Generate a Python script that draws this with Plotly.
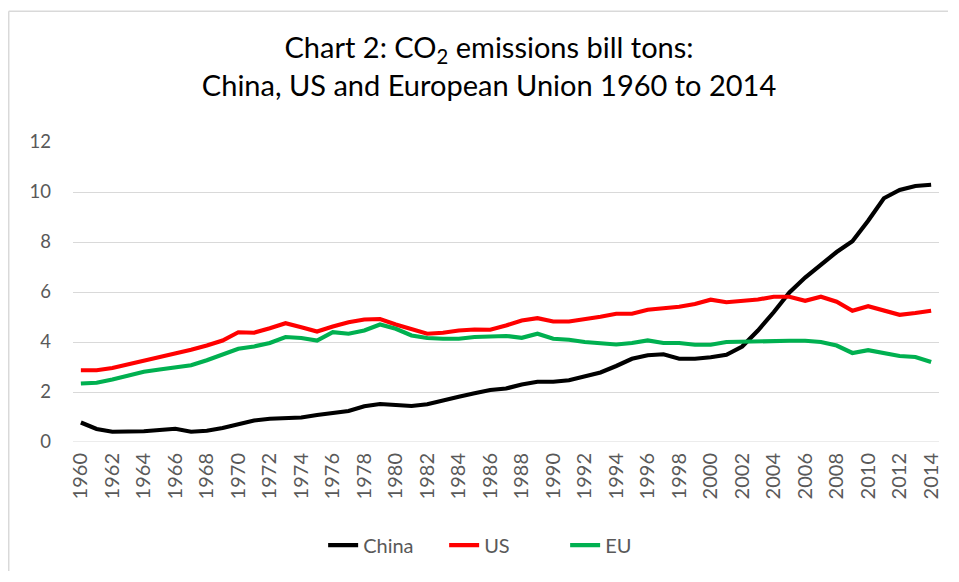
import plotly.graph_objects as go

years = list(range(1960, 2015))

china = [0.78, 0.52, 0.41, 0.41, 0.43, 0.48, 0.53, 0.41, 0.45, 0.56,
         0.73, 0.86, 0.93, 0.95, 0.98, 1.08, 1.15, 1.24, 1.43, 1.52,
         1.48, 1.44, 1.51, 1.64, 1.81, 1.95, 2.08, 2.14, 2.30, 2.41,
         2.41, 2.47, 2.61, 2.78, 3.04, 3.33, 3.47, 3.51, 3.33, 3.33,
         3.39, 3.49, 3.82, 4.46, 5.19, 5.98, 6.58, 7.10, 7.60, 8.03,
         8.85, 9.75, 10.08, 10.24, 10.29]

us = [2.87, 2.87, 2.96, 3.10, 3.23, 3.39, 3.53, 3.69, 3.86, 4.06,
      4.39, 4.37, 4.55, 4.75, 4.59, 4.42, 4.62, 4.79, 4.90, 4.92,
      4.70, 4.53, 4.33, 4.37, 4.46, 4.50, 4.49, 4.66, 4.86, 4.95,
      4.82, 4.82, 4.90, 5.01, 5.13, 5.13, 5.29, 5.35, 5.41, 5.52,
      5.69, 5.59, 5.64, 5.70, 5.81, 5.81, 5.65, 5.81, 5.61, 5.25,
      5.43, 5.28, 5.09, 5.16, 5.25]

eu = [2.34, 2.37, 2.50, 2.67, 2.81, 2.90, 2.99, 3.07, 3.27, 3.52,
      3.73, 3.82, 3.96, 4.20, 4.16, 4.06, 4.39, 4.33, 4.46, 4.70,
      4.53, 4.26, 4.16, 4.13, 4.13, 4.20, 4.20, 4.24, 4.17, 4.33,
      4.13, 4.09, 4.00, 3.96, 3.90, 3.96, 4.06, 3.96, 3.96, 3.89,
      3.89, 4.00, 4.02, 4.05, 4.05, 4.05, 4.05, 4.00, 3.86, 3.56,
      3.67, 3.56, 3.44, 3.40, 3.20]

x_ticks = list(range(1960, 2015, 2))
y_ticks = [0, 2, 4, 6, 8, 10, 12]

series = [("China", china, "#000000"), ("US", us, "#FF0000"), ("EU", eu, "#00B050")]

fig = go.Figure()
for name, vals, col in series:
    fig.add_trace(go.Scatter(x=years, y=vals, name=name, mode="lines",
                             line=dict(color=col, width=4.2)))

FONT = "Lato, 'Liberation Sans', sans-serif"
# page body has an 8px margin; figure sized to fit the 959x582 window
W, H = 943, 566
L, R, T, B = 65, 9, 133.7, 130
pw, ph = W - L - R, H - T - B


def px(fx):
    return (fx - L) / pw


def py(fy):
    return (H - B - fy) / ph


fig.update_layout(
    width=W, height=H,
    margin=dict(l=L, r=R, t=T, b=B),
    paper_bgcolor="white", plot_bgcolor="white",
    font=dict(family=FONT, color="#595959", size=20),
    title=dict(
        text="Chart 2: CO<sub>2</sub> emissions bill tons:<br>China, US and European Union 1960 to 2014",
        font=dict(family=FONT, size=29, color="#000000"),
        x=px(482.5), xref="paper", xanchor="center",
        y=1 - 50 / H, yref="container", yanchor="top",
    ),
    xaxis=dict(
        range=[1959.5, 2014.5], tickmode="array", tickvals=x_ticks,
        ticktext=[str(v) for v in x_ticks], tickangle=-90,
        showgrid=False, zeroline=False, showline=False, ticks="",
        tickfont=dict(size=20, color="#595959"), ticklabelstandoff=6,
    ),
    yaxis=dict(
        range=[0, 12], tickmode="array", tickvals=y_ticks,
        showgrid=True, gridcolor="#D9D9D9", gridwidth=1,
        zeroline=False, showline=False, ticks="",
        tickfont=dict(size=18.5, color="#595959"), ticklabelstandoff=21,
    ),
    legend=dict(
        orientation="h", x=px(316), xanchor="left",
        y=py(540), yanchor="middle",
        font=dict(size=20, color="#595959"), itemwidth=30,
        entrywidth=76, entrywidthmode="pixels",
        bgcolor="rgba(0,0,0,0)",
    ),
    showlegend=True,
)

# bottom gridline at 0 (range edge)
fig.add_shape(type="line", xref="paper", yref="y", x0=0, x1=1, y0=0, y1=0,
              line=dict(color="#D9D9D9", width=1), layer="below")
# chart-area border (top and left edges visible in the reference)
fig.add_shape(type="line", xref="paper", yref="paper",
              x0=px(0.5), x1=px(W), y0=py(2), y1=py(2),
              line=dict(color="#D9D9D9", width=1.5), layer="above")
fig.add_shape(type="line", xref="paper", yref="paper",
              x0=px(0.5), x1=px(0.5), y0=py(2), y1=py(H),
              line=dict(color="#D9D9D9", width=1.5), layer="above")

fig.write_html("out.html")
